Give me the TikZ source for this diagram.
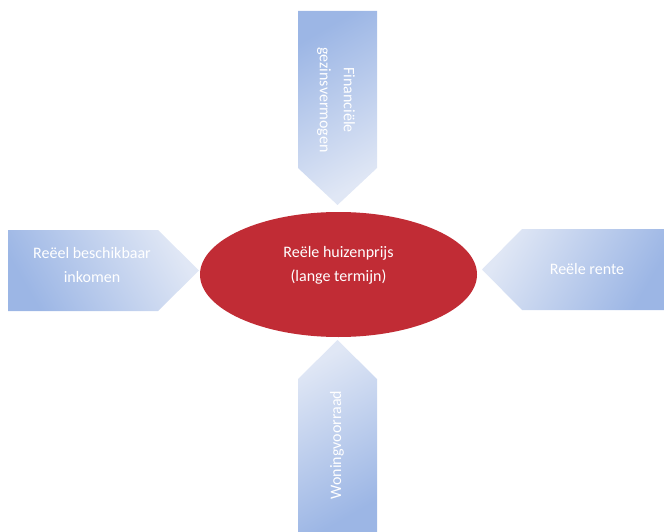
\documentclass[tikz,border=0pt]{standalone}
\usepackage{fontspec}
\setmainfont{Carlito}
\definecolor{dkblue}{RGB}{156,182,229}
\definecolor{ltblue}{RGB}{224,231,245}
\definecolor{ellred}{RGB}{193,44,53}
\tikzset{
  arrowshape/.style={top color=dkblue, bottom color=ltblue},
  lbl/.style={text=white, font=\fontsize{16}{24}\selectfont, align=center, inner sep=0pt},
}
\begin{document}
\begin{tikzpicture}[x=1pt,y=-1pt]
\useasboundingbox (0,0) rectangle (664,532);
% top arrow
\shade[arrowshape, shading angle=30] (298,11) -- (377,11) -- (377,168) -- (337.5,205) -- (298,168) -- cycle;
% left arrow
\shade[arrowshape, shading angle=120] (8,230) -- (158,230) -- (199,270.5) -- (158,311) -- (8,311) -- cycle;
% right arrow
\shade[arrowshape, shading angle=240] (664,229) -- (522,229) -- (482,269.5) -- (522,310) -- (664,310) -- cycle;
% bottom arrow
\shade[arrowshape, shading angle=210] (337.5,340) -- (377,379) -- (377,532) -- (298,532) -- (298,379) -- cycle;
% ellipse
\fill[ellred] (338.5,274.5) ellipse [x radius=138.5, y radius=62.5];
\node[lbl] (c) at (338.5,265) {Reële huizenprijs\\(lange termijn)};
\node[lbl, rotate=-90] (t) at (336,100) {Financiële\\gezinsvermogen};
\node[lbl] (l) at (92,265) {Reëel beschikbaar\\inkomen};
\node[lbl] (r) at (587,269) {Reële rente};
\node[lbl, rotate=90] (b) at (337,445) {Woningvoorraad};
\end{tikzpicture}
\end{document}
